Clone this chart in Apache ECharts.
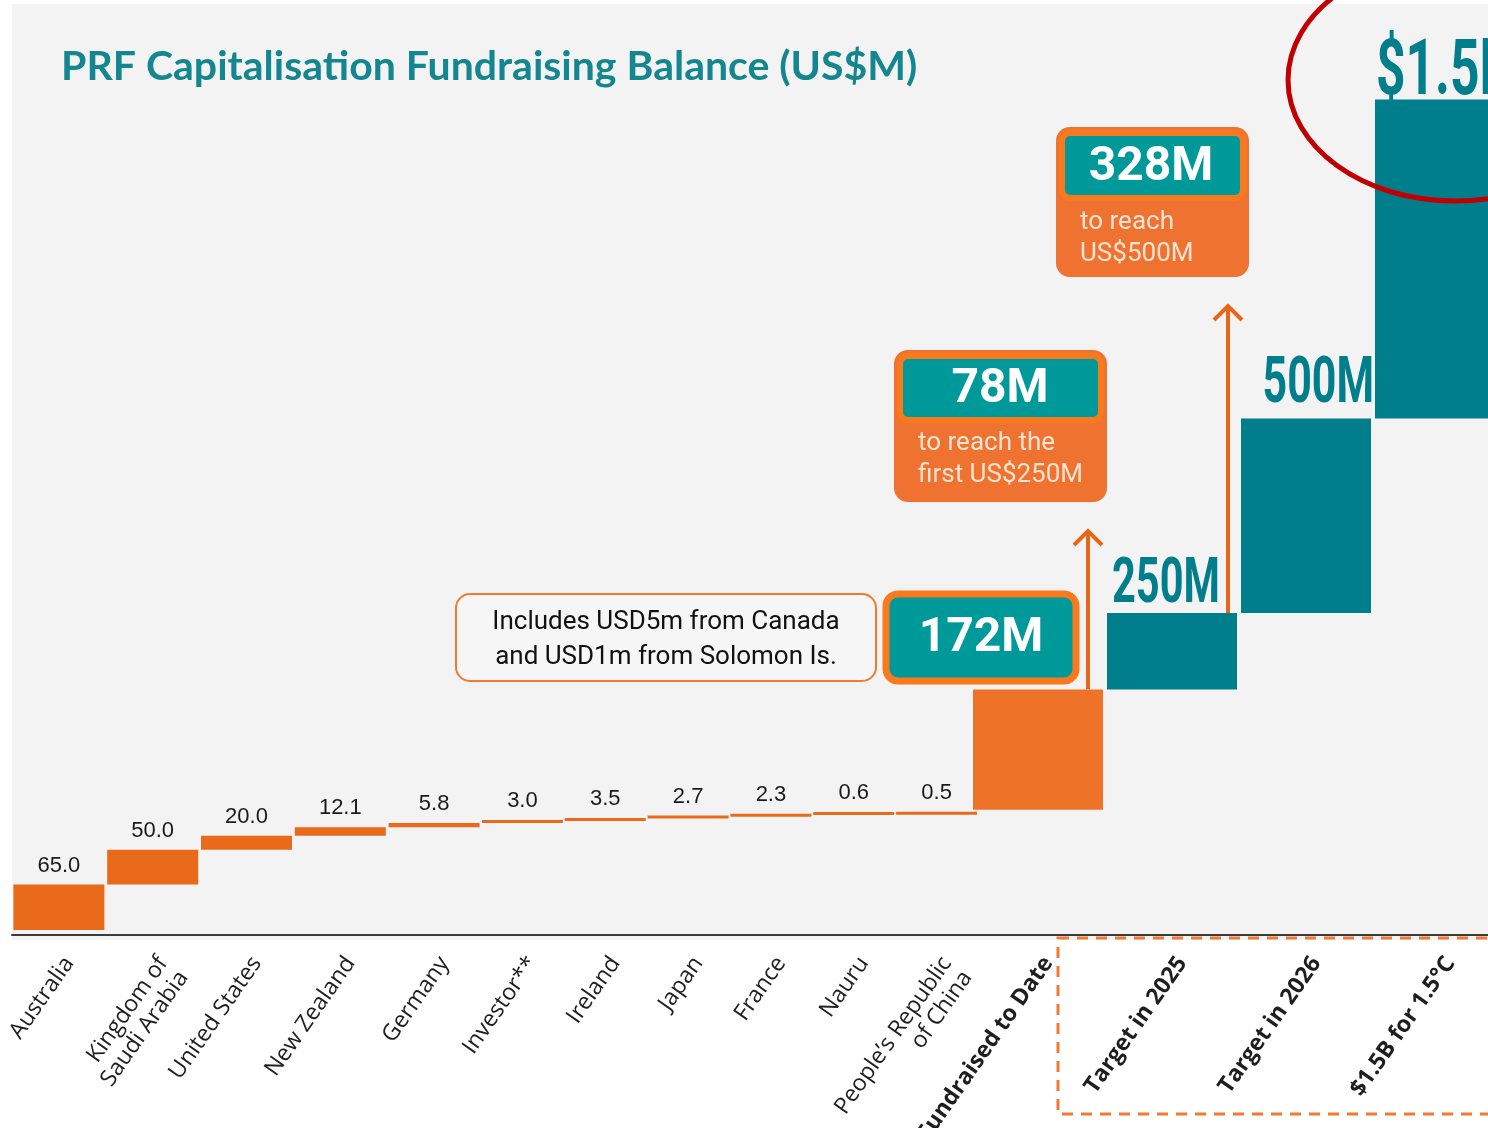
<!DOCTYPE html>
<html>
<head>
<meta charset="utf-8">
<title>PRF Capitalisation Fundraising Balance</title>
<script src="https://cdn.jsdelivr.net/npm/echarts@6/dist/echarts.min.js"></script>
<style>
  html, body { margin: 0; padding: 0; background: #fff; }
  #chart { width: 1488px; height: 1128px; }
</style>
</head>
<body>
<div id="chart"></div>
<script>
// pledges per contributor, US$M
var donors = ['Australia', 'Kingdom of\nSaudi Arabia', 'United States', 'New Zealand', 'Germany',
  'Investor**', 'Ireland', 'Japan', 'France', 'Nauru', 'People\u2019s Republic\nof China']
var pledged = [65.0, 50.0, 20.0, 12.1, 5.8, 3.0, 3.5, 2.7, 2.3, 0.6, 0.5]

// right hand block - bar extents as drawn in the graphic (same axis units)
var milestones = ['Fundraised to Date', 'Target in 2025', 'Target in 2026', '$1.5B for 1.5\u00b0C']
var milestoneText = ['', '250M', '500M', '$1.5B']
var milestoneBase = [172, 344, 453, 731]
var milestoneHeight = [172, 109, 278, 456]

var yMin = -7
var yMax = 1322

var orange = '#e96b19'
var orangeLight = '#ef7229'
var teal = '#007e8b'
var boxTeal = '#00999a'
var boxOrange = '#f97a1e'

var chart = echarts.init(document.getElementById('chart'))

// running total under every donor bar
var donorBase = []
var running = 0
for (var i = 0; i < pledged.length; i++) {
  donorBase.push(Math.round(running * 10) / 10)
  running += pledged[i]
}

function xAxisFor(idx, names, bold) {
  return {
    type: 'category',
    gridIndex: idx,
    data: names,
    axisTick: { show: false },
    axisLine: { onZero: false, lineStyle: { color: '#3b3b3b', width: 2 } },
    axisLabel: {
      interval: 0,
      rotate: 55,
      margin: 17,
      verticalAlign: 'top',
      fontFamily: 'Open Sans',
      fontSize: 23,
      lineHeight: 25,
      fontWeight: bold ? 'bold' : 'normal',
      color: '#1e1e1e'
    }
  }
}

function yAxisFor(idx) {
  return { type: 'value', gridIndex: idx, min: yMin, max: yMax, show: false }
}

var valueLabel = {
  show: true,
  position: 'top',
  distance: 8,
  fontFamily: 'Liberation Sans',
  fontSize: 22,
  color: '#1a1a1a',
  formatter: function(p) {
    return p.value.toFixed(1)
  }
}

function baseSeries(idx, stack, data, width) {
  return {
    type: 'bar', xAxisIndex: idx, yAxisIndex: idx, stack: stack, silent: true,
    barWidth: width, itemStyle: { color: 'transparent' }, data: data
  }
}

chart.setOption({
  backgroundColor: '#fff',
  animation: false,
  title: {
    text: 'PRF Capitalisation Fundraising Balance (US$M)',
    left: 56,
    top: 41,
    textStyle: { fontFamily: 'Lato', fontSize: 41, fontWeight: 'bold', color: '#14868f' }
  },
  grid: [
    { left: 12, top: 5, width: 469, height: 930, outerBoundsMode: 'none' },
    { left: 481, top: 5, width: 497, height: 930, outerBoundsMode: 'none' },
    { left: 971, top: 5, width: 536, height: 930, outerBoundsMode: 'none' }
  ],
  xAxis: [
    xAxisFor(0, donors.slice(0, 5), false),
    xAxisFor(1, donors.slice(5), false),
    xAxisFor(2, milestones, true)
  ],
  yAxis: [yAxisFor(0), yAxisFor(1), yAxisFor(2)],
  series: [
    baseSeries(0, 'a', donorBase.slice(0, 5), 91),
    {
      type: 'bar', xAxisIndex: 0, yAxisIndex: 0, stack: 'a', barWidth: 91, barMinHeight: 3,
      itemStyle: { color: orange }, label: valueLabel, data: pledged.slice(0, 5)
    },
    baseSeries(1, 'b', donorBase.slice(5), 81),
    {
      type: 'bar', xAxisIndex: 1, yAxisIndex: 1, stack: 'b', barWidth: 81, barMinHeight: 3,
      itemStyle: { color: orange }, label: valueLabel, data: pledged.slice(5)
    },
    baseSeries(2, 'c', milestoneBase, 130),
    {
      type: 'bar', xAxisIndex: 2, yAxisIndex: 2, stack: 'c', barWidth: 130,
      data: milestoneHeight.map(function(v, i) {
        return { value: v, itemStyle: { color: i === 0 ? orangeLight : teal } }
      })
    }
  ]
})

function topOf(i) {
  return chart.convertToPixel({ xAxisIndex: 2, yAxisIndex: 2 }, [milestones[i], milestoneBase[i] + milestoneHeight[i]])
}

// arrows start on top of the bars they come from
function arrow(i, dx, topY) {
  var p = topOf(i)
  var x = p[0] + dx
  return {
    type: 'group', z: 8,
    children: [
      { type: 'line', shape: { x1: x, y1: p[1], x2: x, y2: topY + 2 }, style: { stroke: '#e8661a', lineWidth: 4 } },
      {
        type: 'polyline', shape: { points: [[x - 14, topY + 15], [x, topY + 1], [x + 14, topY + 15]] },
        style: { stroke: '#e8661a', lineWidth: 4, fill: 'none' }
      }
    ]
  }
}

// condensed headline over a target bar
function bigLabel(i, dx, dy, size, align) {
  var p = topOf(i)
  return {
    type: 'text', z: 6, x: p[0] + dx, y: p[1] + dy, scaleX: 0.66, silent: true,
    style: { text: milestoneText[i], font: 'bold ' + size + 'px Roboto', fill: teal, align: align, verticalAlign: 'bottom' }
  }
}

chart.setOption({
  graphic: [
    // panel background
    { type: 'rect', z: -5, silent: true, shape: { x: 12, y: 4, width: 1476, height: 936 }, style: { fill: '#f3f3f3' } },
    // dashed frame round the targets
    {
      type: 'rect', z: 5, silent: true,
      shape: { x: 1058, y: 938, width: 480, height: 176 },
      style: { fill: 'none', stroke: '#f07a30', lineWidth: 3, lineDash: [11, 8] }
    },
    bigLabel(1, -6, 5, 63, 'center'),
    bigLabel(2, 68, 0, 65, 'right'),
    bigLabel(3, -64, 14, 78, 'left'),
    arrow(0, 50, 530),
    arrow(1, 56, 305),
    // note box
    {
      type: 'rect', z: 10, shape: { x: 456, y: 594, width: 420, height: 87, r: 14 },
      style: { fill: '#f6f6f6', stroke: '#f07a30', lineWidth: 2 }
    },
    {
      type: 'text', z: 11, x: 666, y: 640,
      style: {
        text: 'Includes USD5m from Canada\nand USD1m from Solomon Is.',
        font: '26px Roboto', fill: '#111', align: 'center', verticalAlign: 'middle', lineHeight: 35
      }
    },
    // 172M
    {
      type: 'rect', z: 10, shape: { x: 886, y: 594, width: 190, height: 87, r: 12 },
      style: { fill: boxTeal, stroke: boxOrange, lineWidth: 7 }
    },
    {
      type: 'text', z: 11, x: 981, y: 639,
      style: { text: '172M', font: 'bold 48px Roboto', fill: '#fff', align: 'center', verticalAlign: 'middle' }
    },
    // 78M
    { type: 'rect', z: 10, shape: { x: 894, y: 350, width: 213, height: 152, r: 14 }, style: { fill: '#ef7230' } },
    {
      type: 'rect', z: 11, shape: { x: 900, y: 356, width: 201, height: 64, r: 8 },
      style: { fill: boxTeal, stroke: boxOrange, lineWidth: 6 }
    },
    {
      type: 'text', z: 12, x: 1000, y: 390,
      style: { text: '78M', font: 'bold 48px Roboto', fill: '#fff', align: 'center', verticalAlign: 'middle' }
    },
    {
      type: 'text', z: 12, x: 918, y: 459,
      style: {
        text: 'to reach the\nfirst US$250M', font: '26px Roboto', fill: '#fde4d2',
        align: 'left', verticalAlign: 'middle', lineHeight: 32
      }
    },
    // 328M
    { type: 'rect', z: 10, shape: { x: 1056, y: 127, width: 193, height: 150, r: 14 }, style: { fill: '#ef7230' } },
    {
      type: 'rect', z: 11, shape: { x: 1062, y: 133, width: 181, height: 65, r: 8 },
      style: { fill: boxTeal, stroke: boxOrange, lineWidth: 6 }
    },
    {
      type: 'text', z: 12, x: 1151, y: 168,
      style: { text: '328M', font: 'bold 48px Roboto', fill: '#fff', align: 'center', verticalAlign: 'middle' }
    },
    {
      type: 'text', z: 12, x: 1080, y: 238,
      style: {
        text: 'to reach\nUS$500M', font: '26px Roboto', fill: '#fde4d2',
        align: 'left', verticalAlign: 'middle', lineHeight: 32
      }
    },
    // red ring round the big target
    {
      type: 'ellipse', z: 20, silent: true,
      shape: { cx: 1455, cy: 80, rx: 167, ry: 121 },
      style: { fill: 'none', stroke: '#c00000', lineWidth: 5 }
    }
  ]
})
</script>
</body>
</html>
